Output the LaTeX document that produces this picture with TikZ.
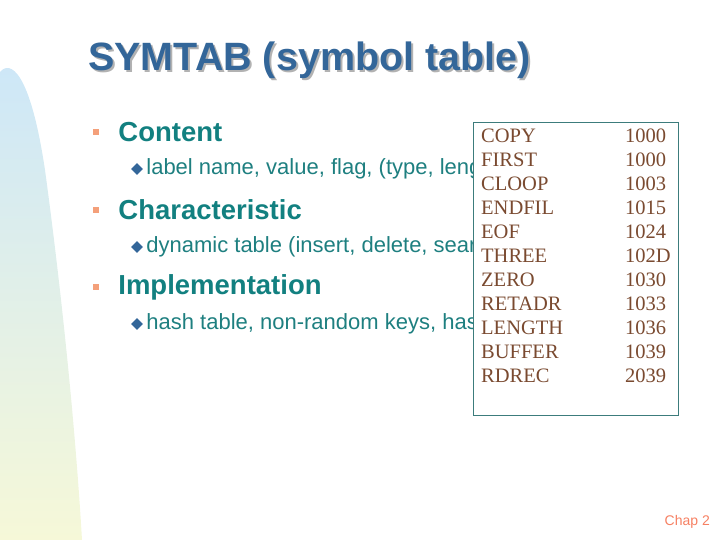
\documentclass[tikz,border=0pt]{standalone}
\usepackage{fontspec}
\setmainfont{Liberation Sans}
\newfontfamily\tabfont{Liberation Serif}
\usetikzlibrary{positioning,shapes.geometric}
\definecolor{titleblue}{HTML}{336699}
\definecolor{headteal}{HTML}{128080}
\definecolor{subteal}{HTML}{1E7F80}
\definecolor{bulorange}{HTML}{F4A07A}
\definecolor{diablue}{HTML}{336699}
\definecolor{boxline}{HTML}{3C7C7C}
\definecolor{tabtext}{HTML}{7A4A30}
\definecolor{swtop}{HTML}{CDE7F8}
\definecolor{swbot}{HTML}{F6F8D8}
\begin{document}
\begin{tikzpicture}[x=1pt,y=-1pt,
  head/.style={anchor=west, inner sep=0pt, text=headteal, font=\fontsize{27.5}{32}\selectfont\bfseries},
  sub/.style={anchor=west, inner sep=0pt, text=subteal, font=\fontsize{22}{26}\selectfont},
  sq/.style={fill=bulorange, minimum size=6pt, inner sep=0pt},
  dia/.style={fill=diablue, shape=diamond, minimum size=12pt, inner sep=0pt},
  sym/.style={anchor=west, inner sep=0pt, text=tabtext, font=\tabfont\fontsize{20.5}{24}\selectfont},
  ]
\useasboundingbox (0,0) rectangle (720,540);
% background swoosh
\shade[top color=swtop, bottom color=swbot, draw=none]
  (0,540) -- (0,72) .. controls (10,60) and (30,70) .. (45,170)
  .. controls (60,280) and (75,420) .. (82,540) -- cycle;
% title
\node[anchor=west, inner sep=0pt, text=gray!60, font=\fontsize{39.5}{44}\selectfont\bfseries] at (90,62) {SYMTAB (symbol table)};
\node[anchor=west, inner sep=0pt, text=titleblue, font=\fontsize{39.5}{44}\selectfont\bfseries] (title) at (88,60) {SYMTAB (symbol table)};
% bullets
\node[sq] (b1) at (96,132) {};
\node[head, right=19pt of b1] (content) {Content};
\node[dia] at (137,169) (d1) {};
\node[sub, right=3pt of d1] (s1) {label name, value, flag, (type, length), etc.};
\node[sq] (b2) at (96,210) {};
\node[head, right=19pt of b2] (charac) {Characteristic};
\node[dia] at (137,247) (d2) {};
\node[sub, right=3pt of d2] (s2) {dynamic table (insert, delete, search)};
\node[sq] (b3) at (96,287) {};
\node[head, right=19pt of b3] (impl) {Implementation};
\node[dia] at (137,324) (d3) {};
\node[sub, right=3pt of d3] (s3) {hash table, non-random keys, hash function};
% symbol table box
\node[draw=boxline, fill=white, line width=0.8pt, minimum width=205pt, minimum height=293pt,
      anchor=north west, inner sep=0pt] (symtab) at (473,122) {};
\foreach \lab/\val [count=\i from 0] in {COPY/1000,FIRST/1000,CLOOP/1003,ENDFIL/1015,EOF/1024,THREE/102D,ZERO/1030,RETADR/1033,LENGTH/1036,BUFFER/1039,RDREC/2039}
{
  \node[sym] (lab\i) at (481,136+24*\i) {\lab};
  \node[sym] (val\i) at (625,136+24*\i) {\val};
}
\node[anchor=east, inner sep=0pt, text=bulorange!80!red, font=\fontsize{14}{16}\selectfont] (chap) at (710,522) {Chap 2};
\end{tikzpicture}
\end{document}
